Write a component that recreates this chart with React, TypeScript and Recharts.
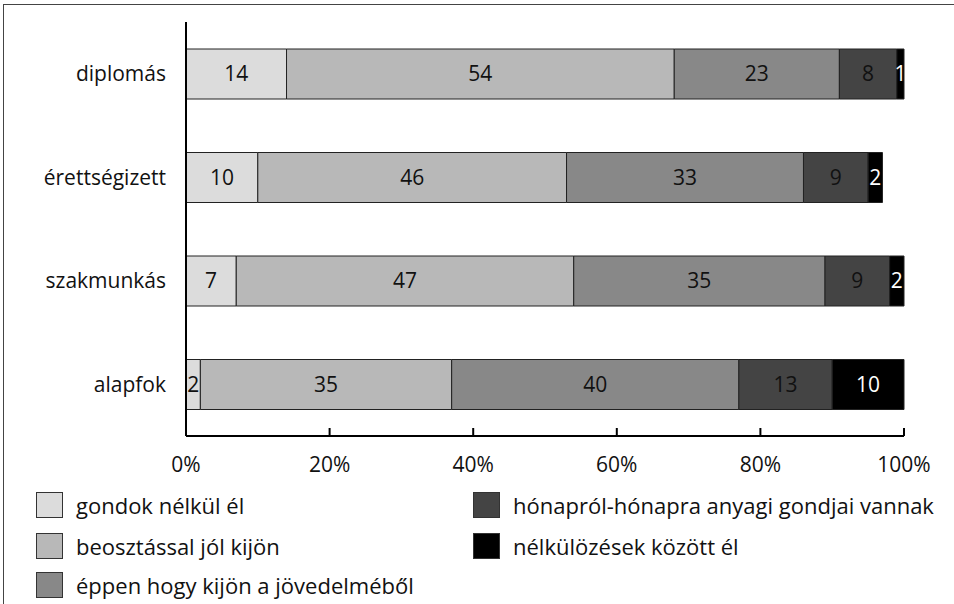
import React from 'react';
import { BarChart, Bar, XAxis, YAxis, LabelList } from 'recharts';

const categories = ['diplomás', 'érettségizett', 'szakmunkás', 'alapfok'];

const seriesNames = [
  'gondok nélkül él',
  'beosztással jól kijön',
  'éppen hogy kijön a jövedelméből',
  'hónapról-hónapra anyagi gondjai vannak',
  'nélkülözések között él',
];

// segment lengths as drawn (share of the whole, %)
const gondokNelkul = [14, 10, 7, 2];
const beosztassal = [54, 43, 47, 35];
const eppenHogy = [23, 33, 35, 40];
const honaprolHonapra = [8, 9, 9, 13];
const nelkulozesek = [1, 2, 2, 10];

// printed numbers (the érettségizett middle segment is labelled 46)
const beosztassalLabels = [54, 46, 47, 35];

const xTicks = [0, 20, 40, 60, 80, 100];

const colors = ['#dcdcdc', '#b8b8b8', '#888888', '#444444', '#000000'];
const labelColors = ['#111', '#111', '#111', '#111', '#fff'];

const FONT = '"Open Sans", "Noto Sans", sans-serif';

const keys = ['s0', 's1', 's2', 's3', 's4'];
const seriesValues = [gondokNelkul, beosztassal, eppenHogy, honaprolHonapra, nelkulozesek];
const seriesLabels = [gondokNelkul, beosztassalLabels, eppenHogy, honaprolHonapra, nelkulozesek];

const data = categories.map((name, i) => {
  const row: Record<string, string | number> = { name };
  keys.forEach((k, j) => {
    row[k] = seriesValues[j][i];
    row[k + 'label'] = seriesLabels[j][i];
  });
  return row;
});

// ticks point up into the plot, label sits below the axis
const XTick = (props: any) => {
  const { x, y, payload } = props;
  return (
    <g>
      <line x1={x} x2={x} y1={y - 8} y2={y} stroke="#000" strokeWidth={2} />
      <text x={x} y={y + 36} textAnchor="middle" fontSize={21} fontFamily={FONT} fill="#111">
        {payload.value}%
      </text>
    </g>
  );
};

const legendPos = [
  { left: 36, top: 505 },
  { left: 36, top: 546 },
  { left: 36, top: 585 },
  { left: 473, top: 505 },
  { left: 473, top: 546 },
];

export default function App() {
  return (
    <div
      style={{
        position: 'absolute',
        left: 0,
        top: 0,
        width: 954,
        height: 604,
        overflow: 'hidden',
        background: '#fff',
        fontFamily: FONT,
      }}
    >
      <div
        style={{
          position: 'absolute',
          left: 3,
          top: 4,
          width: 980,
          height: 640,
          borderTop: '1.5px solid #444',
          borderLeft: '1.5px solid #444',
        }}
      />
      <div style={{ position: 'absolute', left: 0, top: 0 }}>
        <BarChart
          width={954}
          height={604}
          data={data}
          layout="vertical"
          margin={{ top: 22, right: 50, left: 0, bottom: 128 }}
        >
          <XAxis
            type="number"
            domain={[0, 100]}
            ticks={xTicks}
            height={40}
            tickLine={false}
            tickSize={0}
            tickMargin={0}
            axisLine={{ stroke: '#000', strokeWidth: 2 }}
            tick={<XTick />}
            interval={0}
          />
          <YAxis
            type="category"
            dataKey="name"
            width={186}
            tickLine={false}
            tickSize={0}
            tickMargin={20}
            axisLine={{ stroke: '#000', strokeWidth: 2 }}
            tick={{ fontSize: 21, fontFamily: FONT, fill: '#111' }}
          />
          {keys.map((k, j) => (
            <Bar
              key={k}
              dataKey={k}
              name={seriesNames[j]}
              stackId="a"
              fill={colors[j]}
              stroke="#222"
              strokeWidth={1}
              barSize={50}
              isAnimationActive={false}
            >
              <LabelList
                dataKey={k + 'label'}
                position="center"
                fill={labelColors[j]}
                fontSize={21}
                fontFamily={FONT}
              />
            </Bar>
          ))}
        </BarChart>
      </div>
      {seriesNames.map((n, j) => (
        <div
          key={n}
          style={{
            position: 'absolute',
            left: legendPos[j].left,
            top: legendPos[j].top - 15,
            height: 30,
            display: 'flex',
            alignItems: 'center',
            whiteSpace: 'nowrap',
          }}
        >
          <div
            style={{
              width: 25,
              height: 24,
              background: colors[j],
              border: '1.5px solid #333',
              marginRight: 13,
            }}
          />
          <span style={{ fontSize: 22, color: '#111' }}>{n}</span>
        </div>
      ))}
    </div>
  );
}
